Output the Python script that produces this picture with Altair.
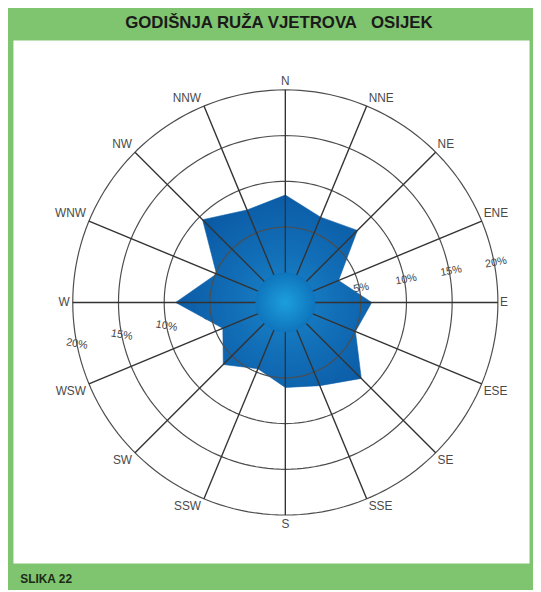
import math
import altair as alt
import pandas as pd

# ---------------- data ----------------
directions = ["N", "NNE", "NE", "ENE", "E", "ESE", "SE", "SSE",
              "S", "SSW", "SW", "WSW", "W", "WNW", "NW", "NNW"]
frequency = [8.5, 6.85, 7.9, 3.05, 6.2, 5.05, 8.5, 6.6,
             6.05, 4.6, 6.35, 4.15, 8.75, 4.9, 9.55, 7.7]
ring_values = [5, 10, 15, 20]
ring_labels = ["5%", "10%", "15%", "20%"]
title_text = "GODIŠNJA RUŽA VJETROVA\u00a0\u00a0\u00a0OSIJEK"
footer_text = "SLIKA 22"

# ---------------- layout / style ----------------
PX = 9.25                 # pixels per 1 %
CALM = 30 / PX            # radius of the calm circle, in % units
RMAX = CALM + 20
W_PLOT, H_PLOT = 522, 529
CX, CY = 275.5, 265.5     # centre of rose inside plot area (px)
GREEN = "#7fc46f"
CIRCLE_STEPS = list(range(0, 360, 2))   # sampling of circle outlines (geometry only)

x_scale = alt.Scale(domain=[-CX / PX, (W_PLOT - CX) / PX], nice=False, zero=False)
y_scale = alt.Scale(domain=[-(H_PLOT - CY) / PX, CY / PX], nice=False, zero=False)
x_axis = alt.Axis(title=footer_text, labels=False, ticks=False, domain=False, grid=False,
                  titleAnchor="start", titleAlign="left", titleX=7, titleY=20,
                  titleBaseline="alphabetic", titleFontSize=12, titleFontWeight="bold",
                  titleColor="#1b2a17", titleFont="Liberation Sans")

n = len(directions)
rose_df = pd.DataFrame({
    "dir": directions,
    "idx": list(range(n)),
    "freq": frequency,
    "ang": [i * 360 / n for i in range(n)],
})
rings_df = pd.DataFrame({"val": ring_values, "label": ring_labels})
ring_paths = pd.DataFrame(
    [{"val": v, "ang": a} for v in ring_values for a in CIRCLE_STEPS]
)
calm_path = pd.DataFrame({"ang": CIRCLE_STEPS})

DEG = "PI/180"

def X(field, **kw):
    return alt.X(field, type="quantitative", scale=x_scale, axis=x_axis, **kw)

def Y(field, **kw):
    return alt.Y(field, type="quantitative", scale=y_scale, axis=None, **kw)

poly_grad = {
    "gradient": "radial",
    "x1": 0.56, "y1": 0.56, "r1": 0,
    "x2": 0.56, "y2": 0.56, "r2": 0.62,
    "stops": [
        {"offset": 0, "color": "#1a86cc"},
        {"offset": 0.4, "color": "#1270b8"},
        {"offset": 1, "color": "#0a57a2"},
    ],
}
calm_grad = {
    "gradient": "radial",
    "x1": 0.5, "y1": 0.5, "r1": 0,
    "x2": 0.5, "y2": 0.5, "r2": 0.5,
    "stops": [
        {"offset": 0, "color": "#1c9fdc"},
        {"offset": 1, "color": "#0f75bd"},
    ],
}

# polygon of frequencies
polygon = alt.Chart(rose_df).transform_calculate(
    r=f"datum.freq + {CALM}",
).transform_calculate(
    px=f"datum.r * sin(datum.ang * {DEG})",
    py=f"datum.r * cos(datum.ang * {DEG})",
).mark_line(
    interpolate="linear-closed", fill=poly_grad, stroke="#0c5ea9", strokeWidth=0.6
).encode(x=X("px"), y=Y("py"), order=alt.Order("idx:Q"))

# rings
rings = alt.Chart(ring_paths).transform_calculate(
    r=f"datum.val + {CALM}",
).transform_calculate(
    px=f"datum.r * sin(datum.ang * {DEG})",
    py=f"datum.r * cos(datum.ang * {DEG})",
).mark_line(
    interpolate="linear-closed", color="#4d4d4d", strokeWidth=1.2
).encode(x=X("px"), y=Y("py"), detail="val:N", order=alt.Order("ang:Q"))

# spokes
spokes = alt.Chart(rose_df).transform_calculate(
    x0=f"{CALM * 0.5} * sin(datum.ang * {DEG})",
    y0=f"{CALM * 0.5} * cos(datum.ang * {DEG})",
    x1=f"{RMAX} * sin(datum.ang * {DEG})",
    y1=f"{RMAX} * cos(datum.ang * {DEG})",
).mark_rule(color="#333333", strokeWidth=1.4).encode(
    x=X("x0"), y=Y("y0"), x2="x1:Q", y2="y1:Q"
)

# calm circle
calm = alt.Chart(calm_path).transform_calculate(
    px=f"{CALM} * sin(datum.ang * {DEG})",
    py=f"{CALM} * cos(datum.ang * {DEG})",
).mark_line(
    interpolate="linear-closed", fill=calm_grad, stroke="#0f75bd", strokeWidth=0.5
).encode(x=X("px"), y=Y("py"), order=alt.Order("ang:Q"))

# ring labels (right side and left side)
def ring_text(direction_deg, rot, extra):
    return alt.Chart(rings_df).transform_calculate(
        lx=f"(datum.val + {CALM + extra}) * sin({direction_deg} * {DEG})",
        ly=f"(datum.val + {CALM + extra}) * cos({direction_deg} * {DEG})",
    ).mark_text(
        font="Liberation Sans", fontSize=11, color="#444444",
        align="center", baseline="middle", angle=rot
    ).encode(x=X("lx"), y=Y("ly"), text="label:N")

ring_right = ring_text(79.3, 350, 0.2)
ring_left = ring_text(258.7, 10, 0.0)

# direction labels grouped by alignment
groups = {}
for i, d in enumerate(directions):
    a = math.radians(i * 360 / n)
    s, c = math.sin(a), math.cos(a)
    align = "left" if s > 0.1 else ("right" if s < -0.1 else "center")
    base = "bottom" if c > 0.1 else ("top" if c < -0.1 else "middle")
    groups.setdefault((align, base), []).append(d)

label_layers = []
for (align, base), dirs in groups.items():
    dx = {"left": 2, "right": -3, "center": 0}[align]
    dy = {"bottom": -1, "top": 2, "middle": 0}[base]
    if align == "center":
        dy = -2 if base == "bottom" else 4
    label_layers.append(
        alt.Chart(rose_df).transform_filter(
            alt.FieldOneOfPredicate(field="dir", oneOf=dirs)
        ).transform_calculate(
            lx=f"{RMAX} * sin(datum.ang * {DEG})",
            ly=f"{RMAX} * cos(datum.ang * {DEG})",
        ).mark_text(
            font="Liberation Sans", fontSize=12, color="#4a4a4a",
            align=align, baseline=base, dx=dx, dy=dy
        ).encode(x=X("lx"), y=Y("ly"), text="dir:N")
    )

chart = alt.layer(
    ring_right, ring_left, polygon, rings, spokes, calm, *label_layers
).properties(
    width=W_PLOT, height=H_PLOT,
    autosize=alt.AutoSizeParams(type="none"),
    padding={"left": 5, "top": 29, "right": 4, "bottom": 24},
    title=alt.TitleParams(
        text=title_text, font="Liberation Sans", fontSize=17, fontWeight="bold",
        color="#1a1a1a", anchor="middle", dx=8, offset=8, frame="group"
    ),
).configure(
    background=GREEN
).configure_view(
    fill="white", stroke="transparent"
)

chart.save("out.html", embed_options={"renderer": "svg", "actions": False})
